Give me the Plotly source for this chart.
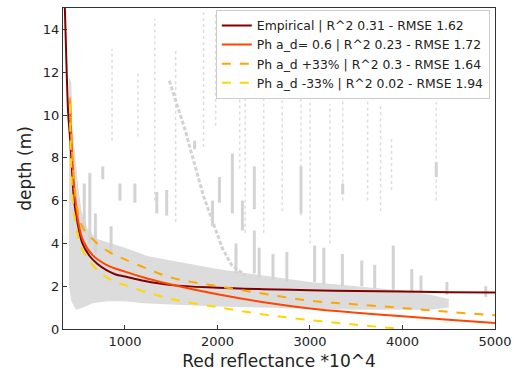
import plotly.graph_objects as go

# ---------------- curve data ----------------
emp_x = [350, 370, 387, 405, 420, 450, 490, 540, 620, 700, 800, 900, 1000, 1200, 1500, 2000, 2500, 3000, 3500, 4000, 4500, 5000]
emp_y = [15.0, 12.0, 10.0, 9.0, 8.0, 6.0, 4.9, 4.0, 3.4, 3.05, 2.75, 2.55, 2.45, 2.25, 2.05, 1.93, 1.86, 1.81, 1.78, 1.75, 1.72, 1.70]

ph_x = [405, 430, 460, 500, 550, 650, 800, 1000, 1250, 1500, 2000, 2500, 3000, 3500, 4000, 4500, 5000]
ph_y = [10.8, 8.0, 6.2, 4.9, 4.1, 3.45, 3.0, 2.68, 2.35, 2.08, 1.62, 1.25, 0.96, 0.76, 0.59, 0.43, 0.28]

php_x = [405, 430, 460, 500, 550, 700, 850, 1000, 1250, 1500, 2000, 2500, 3000, 3500, 4000, 4500, 5000]
php_y = [10.8, 8.2, 6.4, 5.3, 4.7, 4.0, 3.55, 3.25, 2.8, 2.4, 2.0, 1.65, 1.32, 1.15, 0.98, 0.8, 0.64]

phm_x = [405, 420, 450, 500, 550, 700, 850, 1000, 1250, 1500, 2000, 2500, 3000, 3500, 3990]
phm_y = [10.5, 7.4, 5.4, 4.2, 3.6, 2.75, 2.3, 2.05, 1.7, 1.4, 1.02, 0.68, 0.42, 0.2, 0.0]

# ---------------- scatter cloud ----------------
band_upper_x = [395, 420, 430, 460, 490, 530, 600, 700, 850, 1000, 1250, 1500, 1750, 2000, 2500, 3000, 3500, 4000, 4300, 4500]
band_upper_y = [11.8, 11.5, 9.5, 8.0, 6.8, 5.5, 4.6, 4.2, 4.0, 3.8, 3.4, 3.2, 3.0, 2.8, 2.5, 2.2, 2.0, 1.8, 1.6, 1.4]
band_lower_x = [4500, 4300, 4000, 3500, 3000, 2500, 2000, 1500, 1200, 1000, 800, 650, 550, 470, 420, 395]
band_lower_y = [1.0, 0.9, 0.9, 0.9, 0.95, 1.0, 1.05, 1.15, 1.2, 1.3, 1.3, 1.2, 1.0, 0.9, 1.3, 2.0]

# dense streaks: x, bottom, top
dense_x =  [760, 946, 1107, 1344, 1451, 1753, 1946, 2021, 2161, 2269, 2398, 2398, 2903, 3354, 4365, 3050, 2750, 2600, 2200, 2450, 3150, 3350, 3560, 3700, 3900, 4100, 4200, 4480, 4900, 620, 680, 560, 850]
dense_lo = [7.0, 6.0, 5.9, 5.4, 5.3, 8.4, 4.8, 5.9, 5.4, 4.6, 2.6, 5.6, 5.4, 6.3, 7.1, 2.2, 2.2, 2.3, 2.6, 2.4, 2.1, 2.0, 2.0, 1.9, 1.8, 1.7, 1.7, 1.6, 1.5, 4.0, 3.5, 4.5, 3.5]
dense_hi = [7.6, 6.8, 6.8, 6.4, 6.5, 8.8, 6.0, 7.1, 8.2, 6.0, 4.6, 7.6, 7.6, 6.8, 7.8, 3.9, 3.6, 3.5, 4.0, 3.8, 3.8, 3.5, 3.2, 3.0, 3.9, 2.8, 2.5, 2.2, 2.0, 7.3, 5.4, 6.8, 4.8]

# sparse dotted streaks: x, bottom, top
sparse_x =  [860, 1140, 1322, 1548, 1850, 1980, 2240, 2500, 2700, 2903, 3215, 3354, 3623, 3763, 3881, 4365, 3000, 2300]
sparse_lo = [8.8, 9.0, 6.0, 5.0, 8.5, 9.5, 7.5, 4.5, 5.5, 5.3, 4.0, 6.0, 6.0, 5.5, 6.5, 6.0, 4.0, 4.5]
sparse_hi = [13.1, 12.0, 14.5, 13.0, 14.8, 14.8, 13.5, 10.8, 14.8, 10.8, 10.5, 10.9, 10.9, 10.5, 9.0, 10.6, 14.8, 12.0]

# diagonal streak of points
diag_x = [1480, 1560, 1650, 1720, 1800, 1850, 1950, 2050, 2150, 2300]
diag_y = [11.6, 10.5, 9.3, 8.2, 7.0, 6.2, 5.0, 3.8, 3.0, 2.5]

GRAY = "#d3d3d3"

fig = go.Figure()

fig.add_trace(go.Scatter(
    x=band_upper_x + band_lower_x, y=band_upper_y + band_lower_y,
    fill="toself", fillcolor="#dcdcdc", line=dict(width=0), mode="lines",
    showlegend=False, hoverinfo="skip"))

def segs(xs, lo, hi):
    X, Y = [], []
    for x, a, b in zip(xs, lo, hi):
        X += [x, x, None]
        Y += [a, b, None]
    return X, Y

sx, sy = segs(sparse_x, sparse_lo, sparse_hi)
fig.add_trace(go.Scatter(x=sx, y=sy, mode="lines", line=dict(color="#dddddd", width=1.5, dash="dot"),
                         showlegend=False, hoverinfo="skip", connectgaps=False))
dx, dy = segs(dense_x, dense_lo, dense_hi)
fig.add_trace(go.Scatter(x=dx, y=dy, mode="lines", line=dict(color=GRAY, width=3),
                         showlegend=False, hoverinfo="skip", connectgaps=False))
fig.add_trace(go.Scatter(x=diag_x, y=diag_y, mode="lines", line=dict(color=GRAY, width=3, dash="4px,2px"),
                         showlegend=False, hoverinfo="skip"))

fig.add_trace(go.Scatter(x=emp_x, y=emp_y, mode="lines", line=dict(color="#800000", width=2, shape="spline"),
                         name="Empirical | R^2 0.31 - RMSE 1.62"))
fig.add_trace(go.Scatter(x=ph_x, y=ph_y, mode="lines", line=dict(color="#ff4500", width=2, shape="spline"),
                         name="Ph a_d= 0.6 | R^2 0.23 - RMSE 1.72"))
fig.add_trace(go.Scatter(x=php_x, y=php_y, mode="lines", line=dict(color="#ffa500", width=2, dash="dash", shape="spline"),
                         name="Ph a_d +33% | R^2 0.3 - RMSE 1.64"))
fig.add_trace(go.Scatter(x=phm_x, y=phm_y, mode="lines", line=dict(color="#ffd700", width=2, dash="dash", shape="spline"),
                         name="Ph a_d -33% | R^2 0.02 - RMSE 1.94"))

axis_common = dict(showgrid=False, zeroline=False, showline=True, linecolor="#333333", linewidth=1,
                   mirror=True, ticks="inside", ticklen=4, tickcolor="#333333", automargin=False,
                   tickfont=dict(size=13, color="#222222"))

fig.update_layout(
    width=514, height=371,
    margin=dict(l=63, r=19, t=8, b=42),
    plot_bgcolor="white", paper_bgcolor="white",
    font=dict(family="DejaVu Sans", color="#222222"),
    xaxis=dict(range=[330, 5000], tickvals=[1000, 2000, 3000, 4000, 5000],
               title=dict(text="Red reflectance *10^4", font=dict(size=17), standoff=7), **axis_common),
    yaxis=dict(range=[0, 15], tickvals=[0, 2, 4, 6, 8, 10, 12, 14],
               title=dict(text="depth (m)", font=dict(size=17), standoff=6), **axis_common),
    legend=dict(x=0.988, y=0.994, xanchor="right", yanchor="top",
                bgcolor="rgba(255,255,255,0.85)", bordercolor="#cccccc", borderwidth=1,
                font=dict(size=12.4), tracegroupgap=0, itemwidth=30),
    showlegend=True,
)

fig.write_html("out.html", config={"displayModeBar": False},
               post_script="document.body.style.margin='0';document.body.style.overflow='hidden';")
